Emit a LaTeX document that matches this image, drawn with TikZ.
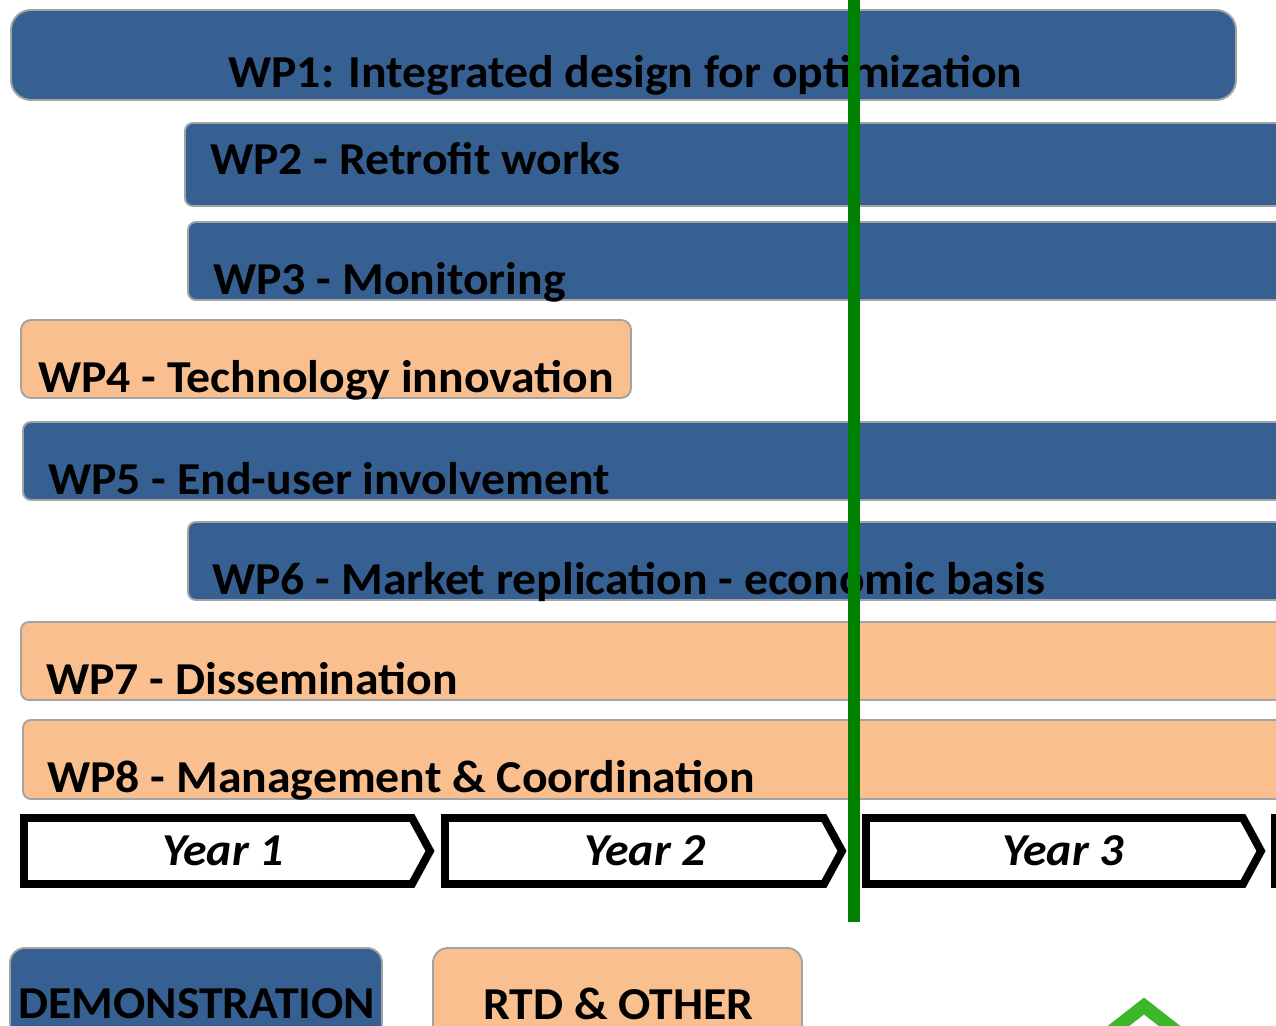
\documentclass[tikz,border=0pt]{standalone}
\usepackage{fontspec}
\setmainfont{Carlito}[FakeStretch=1.045]
\usepackage{tikz}

\definecolor{wpblue}{HTML}{376092}
\definecolor{wporange}{HTML}{F9BF8F}
\definecolor{barline}{HTML}{A3A3A3}
\definecolor{nowgreen}{HTML}{008000}
\definecolor{logogreen}{HTML}{3DB82A}

\begin{document}
\begin{tikzpicture}[x=0.02cm, y=-0.02cm]

\tikzset{bar/.style = {draw=barline, line width=1.1pt}}
\tikzset{demo/.style = {bar, fill=wpblue}}
\tikzset{rtd/.style = {bar, fill=wporange}}
\tikzset{wp/.style = {anchor=base west, inner sep=0pt, font=\fontsize{26}{30}\selectfont\bfseries}}
\tikzset{yearbox/.style = {draw=black, fill=white, line width=4.5pt, line join=miter}}
\tikzset{yeartext/.style = {anchor=base, inner sep=0pt, font=\fontsize{26}{30}\selectfont\bfseries\itshape}}

\useasboundingbox (0,0) rectangle (1276,1026);
\clip (0,0) rectangle (1276,1026);

% work package bars
\draw[demo, rounded corners=0.4cm] (11,10) rectangle (1236,100);
\draw[demo, rounded corners=0.16cm] (185,123) rectangle (1320,206);
\draw[demo, rounded corners=0.16cm] (188,222) rectangle (1320,300);
\draw[rtd, rounded corners=0.2cm] (21,320) rectangle (631,398);
\draw[demo, rounded corners=0.16cm] (23,422) rectangle (1320,500);
\draw[demo, rounded corners=0.16cm] (188,522) rectangle (1320,600);
\draw[rtd, rounded corners=0.16cm] (21,622) rectangle (1320,700);
\draw[rtd, rounded corners=0.16cm] (23,720) rectangle (1320,799);

% labels
\node[wp] (wp1) at (228,88)  {WP1: Integrated design for optimization};
\node[wp] (wp2) at (210,175) {WP2 - Retrofit works};
\node[wp] (wp3) at (213,295) {WP3 - Monitoring};
\node[wp] (wp4) at (38,393)  {WP4 - Technology innovation};
\node[wp] (wp5) at (48,495)  {WP5 - End-user involvement};
\node[wp] (wp6) at (212,595) {WP6 - Market replication - economic basis};
\node[wp] (wp7) at (46,695)  {WP7 - Dissemination};
\node[wp] (wp8) at (47,793)  {WP8 - Management \& Coordination};

% time line
\draw[yearbox] (24,818) -- (412,818) -- (430,851) -- (412,884) -- (24,884) -- cycle;
\draw[yearbox] (445,818) -- (824,818) -- (842,851) -- (824,884) -- (445,884) -- cycle;
\draw[yearbox] (866,818) -- (1243,818) -- (1261,851) -- (1243,884) -- (866,884) -- cycle;
\draw[yearbox] (1275,818) -- (1700,818) -- (1700,884) -- (1275,884) -- cycle;
\node[yeartext] (year1) at (223,866)  {Year 1};
\node[yeartext] (year2) at (645,866)  {Year 2};
\node[yeartext] (year3) at (1063,866) {Year 3};

% legend
\draw[demo, rounded corners=0.3cm] (10,948) rectangle (382,1060);
\draw[rtd, rounded corners=0.3cm] (433,948) rectangle (802,1060);
\node[wp] (demolabel) at (18,1019) {DEMONSTRATION};
\node[wp] (rtdlabel) at (483,1020) {RTD \& OTHER};

% logo corner
\draw[logogreen, line width=7.6pt, line join=miter] (1098,1042) -- (1144,1006) -- (1190,1042);

% current date
\coordinate (now top) at (854,-5);
\coordinate (now bottom) at (854,922);
\draw[nowgreen, line width=6.8pt] (now top) -- (now bottom);

\end{tikzpicture}
\end{document}
